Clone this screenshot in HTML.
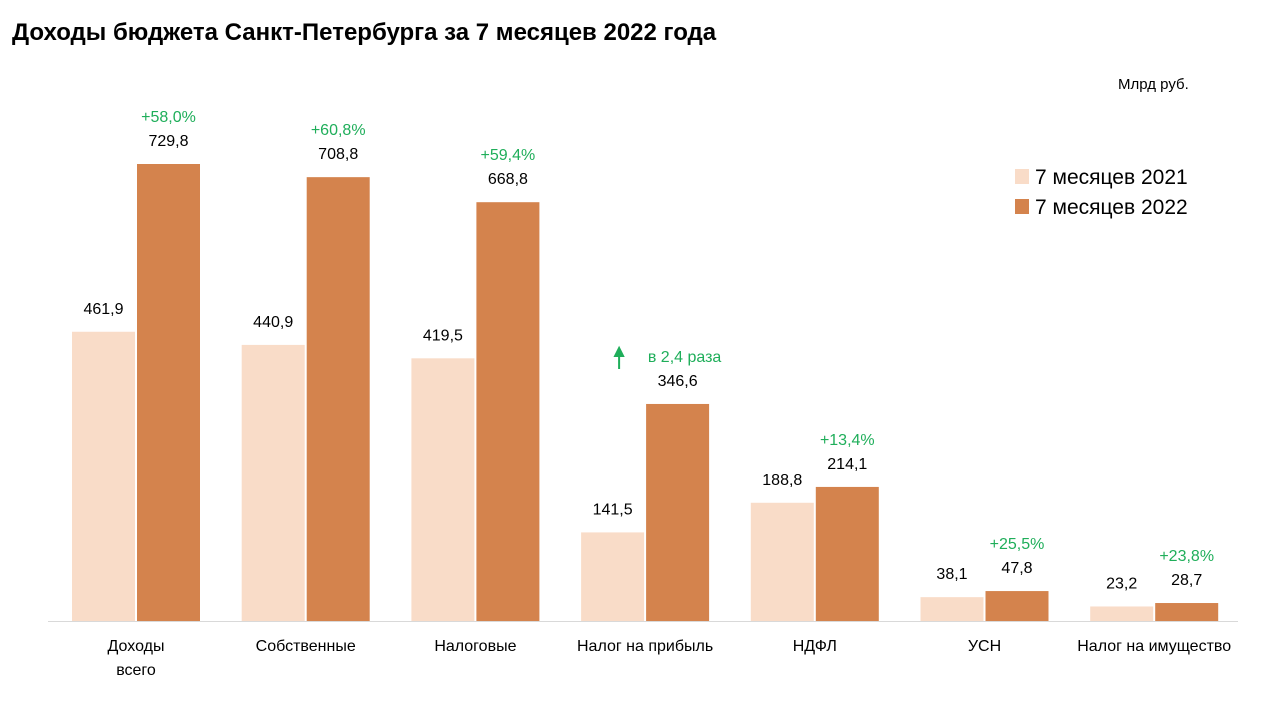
<!DOCTYPE html>
<html><head><meta charset="utf-8"><style>
body{margin:0;background:#fff;width:1284px;height:707px;overflow:hidden;font-family:"Liberation Sans","DejaVu Sans",sans-serif}
</style></head><body>
<svg id="c" width="1284" height="707" xmlns="http://www.w3.org/2000/svg" font-family="Liberation Sans, DejaVu Sans, sans-serif">
<text x="12" y="40" font-size="24" font-weight="bold" fill="#000">Доходы бюджета Санкт-Петербурга за 7 месяцев 2022 года</text>
<text x="1118" y="89" font-size="15" fill="#000">Млрд руб.</text>
<rect x="1015" y="169" width="14" height="15" fill="#f9dcc8"/>
<text x="1035" y="184" font-size="21" fill="#000">7 месяцев 2021</text>
<rect x="1015" y="199" width="14" height="15" fill="#d4834d"/>
<text x="1035" y="214" font-size="21" fill="#000">7 месяцев 2022</text>
<line x1="48" y1="621.5" x2="1238" y2="621.5" stroke="#d9d9d9" stroke-width="1"/>
<g id="bars"></g>
</svg>
<script>
const categories=[["Доходы","всего"],["Собственные"],["Налоговые"],["Налог на прибыль"],["НДФЛ"],["УСН"],["Налог на имущество"]];
const values2021=[461.9,440.9,419.5,141.5,188.8,38.1,23.2];
const values2022=[729.8,708.8,668.8,346.6,214.1,47.8,28.7];
const growthLabels=["+58,0%","+60,8%","+59,4%","в 2,4 раза","+13,4%","+25,5%","+23,8%"];
const NS="http://www.w3.org/2000/svg";
const base=621, scale=457/729.8, x0=72, step=169.7, bw=63, gap=2;
const y=v=>base-v*scale;
const g=document.getElementById('bars');
function el(tag,attrs,text){const e=document.createElementNS(NS,tag);for(const k in attrs)e.setAttribute(k,attrs[k]);if(text!==undefined)e.textContent=text;g.appendChild(e);return e;}
const fmt=v=>v.toFixed(1).replace('.',',');
categories.forEach((cat,i)=>{
  const xl=x0+i*step, xd=xl+bw+gap;
  const b1=el('rect',{x:xl,y:y(values2021[i]),width:bw,height:values2021[i]*scale,fill:'#f9dcc8'});
  
  
  const b2=el('rect',{x:xd,y:y(values2022[i]),width:bw,height:values2022[i]*scale,fill:'#d4834d'});
  
  
  const t1=el('text',{x:xl+bw/2,y:y(values2021[i])-18,'font-size':16,'text-anchor':'middle',fill:'#000'},fmt(values2021[i]));
  
  
  const t2=el('text',{x:xd+bw/2,y:y(values2022[i])-18,'font-size':16,'text-anchor':'middle',fill:'#000'},fmt(values2022[i]));
  
  
  const gy=y(values2022[i])-42;
  if(i===3){
    const tg=el('text',{x:xd+bw/2+7,y:gy,'font-size':16,'text-anchor':'middle',fill:'#1fae5a'},growthLabels[i]);
    
    
    const ar=el('path',{d:`M${xl+38} ${gy+7} L${xl+38} ${gy-12} M${xl+34} ${gy-6} L${xl+38} ${gy-14} L${xl+42} ${gy-6} Z`,stroke:'#1fae5a','stroke-width':2,fill:'#1fae5a'});
    
    
  } else {
    const tg=el('text',{x:xd+bw/2,y:gy,'font-size':16,'text-anchor':'middle',fill:'#1fae5a'},growthLabels[i]);
    
    
  }
  cat.forEach((line,j)=>{
    const c=el('text',{x:xl+bw+gap/2,y:651+j*24,'font-size':16,'text-anchor':'middle',fill:'#000'},line);
    
    
  });
});
</script>
</body></html>
